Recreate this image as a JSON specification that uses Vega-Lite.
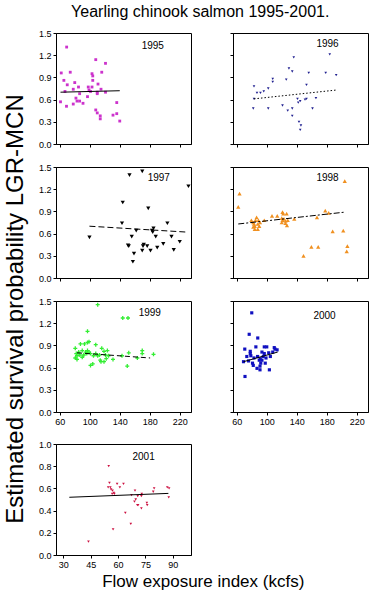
{
"$schema":"https://vega.github.io/schema/vega-lite/v6.json",
"padding":{"left":3,"top":3,"right":2,"bottom":2},
"background":"white",
"title":{"text":"Yearling chinook salmon 1995-2001.","fontSize":16,"font":"Liberation Sans","fontWeight":"normal","anchor":"middle","offset":9,"dx":14,"color":"black"},
"datasets":{
"pts":[
{"yr":1995,"x":69.2,"y":1.31},{"yr":1995,"x":62,"y":0.96},{"yr":1995,"x":65.5,"y":0.86},{"yr":1995,"x":70,"y":0.80},{"yr":1995,"x":67,"y":0.71},{"yr":1995,"x":61,"y":0.57},{"yr":1995,"x":69,"y":0.51},{"yr":1995,"x":74,"y":0.97},{"yr":1995,"x":80,"y":0.83},{"yr":1995,"x":78,"y":0.74},{"yr":1995,"x":85,"y":0.77},{"yr":1995,"x":86.5,"y":0.68},{"yr":1995,"x":81.6,"y":0.62},{"yr":1995,"x":83,"y":0.58},{"yr":1995,"x":86.5,"y":0.58},{"yr":1995,"x":78,"y":0.54},{"yr":1995,"x":91,"y":0.55},{"yr":1995,"x":97,"y":0.64},{"yr":1995,"x":98,"y":0.77},{"yr":1995,"x":99,"y":0.73},{"yr":1995,"x":101,"y":0.71},{"yr":1995,"x":103,"y":0.95},{"yr":1995,"x":104,"y":0.92},{"yr":1995,"x":104,"y":0.86},{"yr":1995,"x":103,"y":0.77},{"yr":1995,"x":108,"y":1.14},{"yr":1995,"x":110,"y":0.70},{"yr":1995,"x":111,"y":0.81},{"yr":1995,"x":110,"y":0.68},{"yr":1995,"x":115,"y":0.74},{"yr":1995,"x":116,"y":0.97},{"yr":1995,"x":121,"y":1.09},{"yr":1995,"x":121,"y":0.70},{"yr":1995,"x":108,"y":0.46},{"yr":1995,"x":110,"y":0.42},{"yr":1995,"x":114,"y":0.38},{"yr":1995,"x":114,"y":0.34},{"yr":1995,"x":131,"y":0.39},{"yr":1995,"x":136,"y":0.56},{"yr":1995,"x":136,"y":0.41},{"yr":1995,"x":140,"y":0.31},
{"yr":1996,"x":83,"y":0.78},{"yr":1996,"x":87,"y":0.69},{"yr":1996,"x":91.6,"y":0.69},{"yr":1996,"x":96,"y":0.71},{"yr":1996,"x":83,"y":0.61},{"yr":1996,"x":82,"y":0.48},{"yr":1996,"x":102,"y":0.75},{"yr":1996,"x":102,"y":0.48},{"yr":1996,"x":108,"y":0.84},{"yr":1996,"x":108,"y":0.88},{"yr":1996,"x":121,"y":0.52},{"yr":1996,"x":126,"y":0.87},{"yr":1996,"x":129.6,"y":1.02},{"yr":1996,"x":134,"y":0.98},{"yr":1996,"x":136,"y":1.17},{"yr":1996,"x":128,"y":0.45},{"yr":1996,"x":134,"y":0.48},{"yr":1996,"x":134,"y":0.38},{"yr":1996,"x":141,"y":0.61},{"yr":1996,"x":142,"y":0.56},{"yr":1996,"x":144.6,"y":0.58},{"yr":1996,"x":143,"y":0.30},{"yr":1996,"x":145.6,"y":0.25},{"yr":1996,"x":144.6,"y":0.19},{"yr":1996,"x":151,"y":0.60},{"yr":1996,"x":153,"y":0.61},{"yr":1996,"x":153,"y":0.80},{"yr":1996,"x":156,"y":0.96},{"yr":1996,"x":161,"y":0.48},{"yr":1996,"x":165.6,"y":0.62},{"yr":1996,"x":178.6,"y":0.96},{"yr":1996,"x":184,"y":1.21},{"yr":1996,"x":192.6,"y":0.93},
{"yr":1997,"x":99.6,"y":0.55},{"yr":1997,"x":144,"y":1.02},{"yr":1997,"x":153,"y":1.39},{"yr":1997,"x":170,"y":1.44},{"yr":1997,"x":178,"y":0.94},{"yr":1997,"x":143,"y":0.74},{"yr":1997,"x":151,"y":0.44},{"yr":1997,"x":152,"y":0.43},{"yr":1997,"x":156,"y":0.56},{"yr":1997,"x":162,"y":0.64},{"yr":1997,"x":159,"y":0.33},{"yr":1997,"x":157.5,"y":0.22},{"yr":1997,"x":170,"y":0.37},{"yr":1997,"x":172,"y":0.45},{"yr":1997,"x":171,"y":0.43},{"yr":1997,"x":176.6,"y":0.43},{"yr":1997,"x":181,"y":0.37},{"yr":1997,"x":184,"y":0.62},{"yr":1997,"x":185,"y":0.67},{"yr":1997,"x":183,"y":0.64},{"yr":1997,"x":188,"y":0.56},{"yr":1997,"x":190,"y":0.41},{"yr":1997,"x":198,"y":0.46},{"yr":1997,"x":203.5,"y":0.74},{"yr":1997,"x":209,"y":0.56},{"yr":1997,"x":212,"y":0.38},{"yr":1997,"x":220,"y":0.49},{"yr":1997,"x":231.6,"y":1.24},
{"yr":1998,"x":63.7,"y":1.14},{"yr":1998,"x":62,"y":0.96},{"yr":1998,"x":79.5,"y":0.78},{"yr":1998,"x":82,"y":0.75},{"yr":1998,"x":83,"y":0.73},{"yr":1998,"x":84,"y":0.70},{"yr":1998,"x":82,"y":0.69},{"yr":1998,"x":84,"y":0.66},{"yr":1998,"x":88,"y":0.66},{"yr":1998,"x":86.5,"y":0.82},{"yr":1998,"x":89,"y":0.78},{"yr":1998,"x":91,"y":0.75},{"yr":1998,"x":88,"y":0.73},{"yr":1998,"x":90,"y":0.70},{"yr":1998,"x":85,"y":0.78},{"yr":1998,"x":96.7,"y":0.78},{"yr":1998,"x":107,"y":0.84},{"yr":1998,"x":114,"y":0.84},{"yr":1998,"x":121,"y":0.89},{"yr":1998,"x":122,"y":0.87},{"yr":1998,"x":126.5,"y":0.87},{"yr":1998,"x":120,"y":0.81},{"yr":1998,"x":123,"y":0.80},{"yr":1998,"x":121,"y":0.78},{"yr":1998,"x":125,"y":0.77},{"yr":1998,"x":128,"y":0.78},{"yr":1998,"x":125,"y":0.74},{"yr":1998,"x":127,"y":0.71},{"yr":1998,"x":120,"y":0.75},{"yr":1998,"x":136.7,"y":0.80},{"yr":1998,"x":149,"y":0.30},{"yr":1998,"x":159.5,"y":0.42},{"yr":1998,"x":168.6,"y":0.42},{"yr":1998,"x":167,"y":0.82},{"yr":1998,"x":178,"y":0.91},{"yr":1998,"x":182.6,"y":0.88},{"yr":1998,"x":187.9,"y":0.63},{"yr":1998,"x":202,"y":0.64},{"yr":1998,"x":204,"y":1.31},{"yr":1998,"x":207.5,"y":0.43},{"yr":1998,"x":206.6,"y":0.36},
{"yr":1999,"x":110.6,"y":1.45},{"yr":1999,"x":144,"y":1.27},{"yr":1999,"x":151,"y":1.27},{"yr":1999,"x":97,"y":1.09},{"yr":1999,"x":150,"y":0.62},{"yr":1999,"x":152,"y":0.80},{"yr":1999,"x":170,"y":0.83},{"yr":1999,"x":170,"y":0.79},{"yr":1999,"x":163.5,"y":0.73},{"yr":1999,"x":185,"y":0.78},{"yr":1999,"x":143,"y":0.76},{"yr":1999,"x":131,"y":0.71},
{"yr":1999,"x":80.7,"y":0.86},{"yr":1999,"x":82,"y":0.79},{"yr":1999,"x":83,"y":0.76},{"yr":1999,"x":80.7,"y":0.73},{"yr":1999,"x":83,"y":0.71},{"yr":1999,"x":85.3,"y":0.81},{"yr":1999,"x":86.7,"y":0.77},{"yr":1999,"x":87.6,"y":0.92},{"yr":1999,"x":90,"y":0.83},{"yr":1999,"x":90,"y":0.74},{"yr":1999,"x":92,"y":0.77},{"yr":1999,"x":93,"y":0.92},{"yr":1999,"x":94.5,"y":0.81},{"yr":1999,"x":96,"y":0.79},{"yr":1999,"x":97,"y":0.83},{"yr":1999,"x":97,"y":0.94},{"yr":1999,"x":99,"y":0.95},{"yr":1999,"x":99,"y":0.81},{"yr":1999,"x":101,"y":0.79},{"yr":1999,"x":104,"y":0.65},{"yr":1999,"x":101,"y":0.63},{"yr":1999,"x":105,"y":0.76},{"yr":1999,"x":108,"y":0.79},{"yr":1999,"x":108,"y":0.91},{"yr":1999,"x":110.6,"y":0.76},{"yr":1999,"x":113,"y":0.77},{"yr":1999,"x":114,"y":0.70},{"yr":1999,"x":115,"y":0.68},{"yr":1999,"x":116,"y":0.86},{"yr":1999,"x":119,"y":0.82},{"yr":1999,"x":119,"y":0.68},{"yr":1999,"x":121,"y":0.77},{"yr":1999,"x":122,"y":0.72},{"yr":1999,"x":123.5,"y":0.83},{"yr":1999,"x":125,"y":0.76},
{"yr":2000,"x":80,"y":1.34},{"yr":2000,"x":76.6,"y":1.05},{"yr":2000,"x":88,"y":1.00},{"yr":2000,"x":70.7,"y":0.85},{"yr":2000,"x":78,"y":0.82},{"yr":2000,"x":78,"y":0.79},{"yr":2000,"x":85.5,"y":0.88},{"yr":2000,"x":96.7,"y":0.88},{"yr":2000,"x":100,"y":0.88},{"yr":2000,"x":93.6,"y":0.81},{"yr":2000,"x":96.7,"y":0.79},{"yr":2000,"x":102.6,"y":0.80},{"yr":2000,"x":110,"y":0.87},{"yr":2000,"x":111,"y":0.85},{"yr":2000,"x":113.8,"y":0.84},{"yr":2000,"x":108,"y":0.81},{"yr":2000,"x":73.4,"y":0.75},{"yr":2000,"x":78.8,"y":0.76},{"yr":2000,"x":83,"y":0.73},{"yr":2000,"x":87.8,"y":0.75},{"yr":2000,"x":91.4,"y":0.72},{"yr":2000,"x":93.6,"y":0.70},{"yr":2000,"x":90,"y":0.70},{"yr":2000,"x":95.4,"y":0.75},{"yr":2000,"x":99,"y":0.73},{"yr":2000,"x":104.8,"y":0.75},{"yr":2000,"x":69,"y":0.68},{"yr":2000,"x":75.7,"y":0.69},{"yr":2000,"x":81,"y":0.66},{"yr":2000,"x":82,"y":0.63},{"yr":2000,"x":92,"y":0.66},{"yr":2000,"x":98,"y":0.66},{"yr":2000,"x":91,"y":0.62},{"yr":2000,"x":87,"y":0.59},{"yr":2000,"x":91,"y":0.57},{"yr":2000,"x":103.5,"y":0.57},{"yr":2000,"x":71,"y":0.48},
{"yr":2001,"x":54.9,"y":0.80},{"yr":2001,"x":55.3,"y":0.65},{"yr":2001,"x":54.6,"y":0.61},{"yr":2001,"x":55.8,"y":0.61},{"yr":2001,"x":56.2,"y":0.59},{"yr":2001,"x":57,"y":0.58},{"yr":2001,"x":57.7,"y":0.56},{"yr":2001,"x":56.8,"y":0.55},{"yr":2001,"x":58,"y":0.55},{"yr":2001,"x":57.3,"y":0.23},{"yr":2001,"x":59.5,"y":0.64},{"yr":2001,"x":61,"y":0.61},{"yr":2001,"x":63,"y":0.64},{"yr":2001,"x":64,"y":0.38},{"yr":2001,"x":67,"y":0.28},{"yr":2001,"x":67.4,"y":0.54},{"yr":2001,"x":69.3,"y":0.58},{"yr":2001,"x":69.7,"y":0.50},{"yr":2001,"x":69,"y":0.48},{"yr":2001,"x":70.6,"y":0.45},{"yr":2001,"x":71,"y":0.45},{"yr":2001,"x":70.8,"y":0.53},{"yr":2001,"x":73,"y":0.55},{"yr":2001,"x":72.8,"y":0.53},{"yr":2001,"x":72.8,"y":0.42},{"yr":2001,"x":75.8,"y":0.47},{"yr":2001,"x":76,"y":0.45},{"yr":2001,"x":79.3,"y":0.57},{"yr":2001,"x":79.8,"y":0.60},{"yr":2001,"x":87,"y":0.61},{"yr":2001,"x":87.8,"y":0.52},{"yr":2001,"x":88,"y":0.60},{"yr":2001,"x":43.8,"y":0.12}
],
"fit":[
{"yr":1995,"x":61,"y":0.70},{"yr":1995,"x":140,"y":0.72},
{"yr":1996,"x":83,"y":0.61},{"yr":1996,"x":193.5,"y":0.73},
{"yr":1997,"x":99.6,"y":0.70},{"yr":1997,"x":230,"y":0.62},
{"yr":1998,"x":62,"y":0.73},{"yr":1998,"x":204,"y":0.89},
{"yr":1999,"x":83,"y":0.80},{"yr":1999,"x":180.5,"y":0.73},
{"yr":2000,"x":69,"y":0.68},{"yr":2000,"x":114.6,"y":0.81},
{"yr":2001,"x":33.3,"y":0.52},{"yr":2001,"x":87.6,"y":0.555}
]
},
"vconcat":[{
"title":{"text":"Estimated survival probability LGR-MCN","orient":"left","anchor":"middle","fontSize":24,"fontWeight":"normal","font":"Liberation Sans","offset":10,"color":"black"},
"vconcat":[{
"title":{"text":"Flow exposure index (kcfs)","orient":"bottom","anchor":"middle","fontSize":17,"fontWeight":"normal","font":"Liberation Sans","offset":4,"color":"black"},
"spacing":12,
"vconcat":[
{"spacing":37,"hconcat":[
{"width":135,"height":111,"layer":[
{"data":{"name":"pts"},"transform":[{"filter":"datum.yr==1995"}],"mark":{"type":"point","shape":"square","filled":true,"size":8,"color":"#CC33CC","opacity":1},
 "encoding":{"x":{"field":"x","type":"quantitative","title":null,"scale":{"domain":[55,235],"nice":false,"zero":false},"axis":{"values":[60,100,140,180,220],"labels":false}},"y":{"field":"y","type":"quantitative","title":null,"scale":{"domain":[0,1.5],"nice":false},"axis":{"values":[0,0.3,0.6,0.9,1.2,1.5],"format":".1f"}}}},
{"data":{"name":"fit"},"transform":[{"filter":"datum.yr==1995"}],"mark":{"type":"line","color":"black","strokeWidth":1},
 "encoding":{"x":{"field":"x","type":"quantitative","title":null,"scale":{"domain":[55,235],"nice":false,"zero":false},"axis":{"values":[60,100,140,180,220],"labels":false}},"y":{"field":"y","type":"quantitative","title":null,"scale":{"domain":[0,1.5],"nice":false},"axis":{"values":[0,0.3,0.6,0.9,1.2,1.5],"format":".1f"}}}},
{"data":{"values":[{}]},"mark":{"type":"text","fontSize":10,"font":"Liberation Sans","color":"black"},
 "encoding":{"x":{"datum":184,"type":"quantitative","title":null,"scale":{"domain":[55,235],"nice":false,"zero":false},"axis":{"values":[60,100,140,180,220],"labels":false}},"y":{"datum":1.33,"type":"quantitative","title":null,"scale":{"domain":[0,1.5],"nice":false},"axis":{"values":[0,0.3,0.6,0.9,1.2,1.5],"format":".1f"}},"text":{"value":"1995"}}}
]},
{"width":135,"height":111,"layer":[
{"data":{"name":"pts"},"transform":[{"filter":"datum.yr==1996"}],"mark":{"type":"point","shape":"triangle-down","filled":true,"size":7,"color":"#202090","opacity":1},
 "encoding":{"x":{"field":"x","type":"quantitative","title":null,"scale":{"domain":[55,235],"nice":false,"zero":false},"axis":{"values":[60,100,140,180,220],"labels":false}},"y":{"field":"y","type":"quantitative","title":null,"scale":{"domain":[0,1.5],"nice":false},"axis":{"values":[0,0.3,0.6,0.9,1.2,1.5],"labels":false}}}},
{"data":{"name":"fit"},"transform":[{"filter":"datum.yr==1996"}],"mark":{"type":"line","color":"black","strokeWidth":1,"strokeDash":[1.5,2]},
 "encoding":{"x":{"field":"x","type":"quantitative","title":null,"scale":{"domain":[55,235],"nice":false,"zero":false},"axis":{"values":[60,100,140,180,220],"labels":false}},"y":{"field":"y","type":"quantitative","title":null,"scale":{"domain":[0,1.5],"nice":false},"axis":{"values":[0,0.3,0.6,0.9,1.2,1.5],"labels":false}}}},
{"data":{"values":[{}]},"mark":{"type":"text","fontSize":10,"font":"Liberation Sans","color":"black"},
 "encoding":{"x":{"datum":181,"type":"quantitative","title":null,"scale":{"domain":[55,235],"nice":false,"zero":false},"axis":{"values":[60,100,140,180,220],"labels":false}},"y":{"datum":1.35,"type":"quantitative","title":null,"scale":{"domain":[0,1.5],"nice":false},"axis":{"values":[0,0.3,0.6,0.9,1.2,1.5],"labels":false}},"text":{"value":"1996"}}}
]}
]},
{"spacing":37,"hconcat":[
{"width":135,"height":111,"layer":[
{"data":{"name":"pts"},"transform":[{"filter":"datum.yr==1997"}],"mark":{"type":"point","shape":"triangle-down","filled":true,"size":18,"color":"black","opacity":1},
 "encoding":{"x":{"field":"x","type":"quantitative","title":null,"scale":{"domain":[55,235],"nice":false,"zero":false},"axis":{"values":[60,100,140,180,220],"labels":false}},"y":{"field":"y","type":"quantitative","title":null,"scale":{"domain":[0,1.5],"nice":false},"axis":{"values":[0,0.3,0.6,0.9,1.2,1.5],"format":".1f"}}}},
{"data":{"name":"fit"},"transform":[{"filter":"datum.yr==1997"}],"mark":{"type":"line","color":"black","strokeWidth":1,"strokeDash":[6,3]},
 "encoding":{"x":{"field":"x","type":"quantitative","title":null,"scale":{"domain":[55,235],"nice":false,"zero":false},"axis":{"values":[60,100,140,180,220],"labels":false}},"y":{"field":"y","type":"quantitative","title":null,"scale":{"domain":[0,1.5],"nice":false},"axis":{"values":[0,0.3,0.6,0.9,1.2,1.5],"format":".1f"}}}},
{"data":{"values":[{}]},"mark":{"type":"text","fontSize":10,"font":"Liberation Sans","color":"black"},
 "encoding":{"x":{"datum":192,"type":"quantitative","title":null,"scale":{"domain":[55,235],"nice":false,"zero":false},"axis":{"values":[60,100,140,180,220],"labels":false}},"y":{"datum":1.35,"type":"quantitative","title":null,"scale":{"domain":[0,1.5],"nice":false},"axis":{"values":[0,0.3,0.6,0.9,1.2,1.5],"format":".1f"}},"text":{"value":"1997"}}}
]},
{"width":135,"height":111,"layer":[
{"data":{"name":"pts"},"transform":[{"filter":"datum.yr==1998"}],"mark":{"type":"point","shape":"triangle-up","filled":true,"size":18,"color":"#F09020","opacity":1},
 "encoding":{"x":{"field":"x","type":"quantitative","title":null,"scale":{"domain":[55,235],"nice":false,"zero":false},"axis":{"values":[60,100,140,180,220],"labels":false}},"y":{"field":"y","type":"quantitative","title":null,"scale":{"domain":[0,1.5],"nice":false},"axis":{"values":[0,0.3,0.6,0.9,1.2,1.5],"labels":false}}}},
{"data":{"name":"fit"},"transform":[{"filter":"datum.yr==1998"}],"mark":{"type":"line","color":"black","strokeWidth":1,"strokeDash":[6,2,2,2]},
 "encoding":{"x":{"field":"x","type":"quantitative","title":null,"scale":{"domain":[55,235],"nice":false,"zero":false},"axis":{"values":[60,100,140,180,220],"labels":false}},"y":{"field":"y","type":"quantitative","title":null,"scale":{"domain":[0,1.5],"nice":false},"axis":{"values":[0,0.3,0.6,0.9,1.2,1.5],"labels":false}}}},
{"data":{"values":[{}]},"mark":{"type":"text","fontSize":10,"font":"Liberation Sans","color":"black"},
 "encoding":{"x":{"datum":181,"type":"quantitative","title":null,"scale":{"domain":[55,235],"nice":false,"zero":false},"axis":{"values":[60,100,140,180,220],"labels":false}},"y":{"datum":1.35,"type":"quantitative","title":null,"scale":{"domain":[0,1.5],"nice":false},"axis":{"values":[0,0.3,0.6,0.9,1.2,1.5],"labels":false}},"text":{"value":"1998"}}}
]}
]},
{"spacing":37,"hconcat":[
{"width":135,"height":111,"layer":[
{"data":{"name":"pts"},"transform":[{"filter":"datum.yr==1999"}],"mark":{"type":"point","shape":"M-1,0L1,0M0,-1L0,1","filled":false,"size":16,"strokeWidth":1.3,"color":"#33EE33","opacity":1},
 "encoding":{"x":{"field":"x","type":"quantitative","title":null,"scale":{"domain":[55,235],"nice":false,"zero":false},"axis":{"values":[60,100,140,180,220]}},"y":{"field":"y","type":"quantitative","title":null,"scale":{"domain":[0,1.5],"nice":false},"axis":{"values":[0,0.3,0.6,0.9,1.2,1.5],"format":".1f"}}}},
{"data":{"name":"fit"},"transform":[{"filter":"datum.yr==1999"}],"mark":{"type":"line","color":"black","strokeWidth":1,"strokeDash":[5,3]},
 "encoding":{"x":{"field":"x","type":"quantitative","title":null,"scale":{"domain":[55,235],"nice":false,"zero":false},"axis":{"values":[60,100,140,180,220]}},"y":{"field":"y","type":"quantitative","title":null,"scale":{"domain":[0,1.5],"nice":false},"axis":{"values":[0,0.3,0.6,0.9,1.2,1.5],"format":".1f"}}}},
{"data":{"values":[{}]},"mark":{"type":"text","fontSize":10,"font":"Liberation Sans","color":"black"},
 "encoding":{"x":{"datum":180,"type":"quantitative","title":null,"scale":{"domain":[55,235],"nice":false,"zero":false},"axis":{"values":[60,100,140,180,220]}},"y":{"datum":1.34,"type":"quantitative","title":null,"scale":{"domain":[0,1.5],"nice":false},"axis":{"values":[0,0.3,0.6,0.9,1.2,1.5],"format":".1f"}},"text":{"value":"1999"}}}
]},
{"width":135,"height":111,"layer":[
{"data":{"name":"pts"},"transform":[{"filter":"datum.yr==2000"}],"mark":{"type":"point","shape":"square","filled":true,"size":10,"color":"#1010C0","opacity":1},
 "encoding":{"x":{"field":"x","type":"quantitative","title":null,"scale":{"domain":[55,235],"nice":false,"zero":false},"axis":{"values":[60,100,140,180,220]}},"y":{"field":"y","type":"quantitative","title":null,"scale":{"domain":[0,1.5],"nice":false},"axis":{"values":[0,0.3,0.6,0.9,1.2,1.5],"labels":false}}}},
{"data":{"name":"fit"},"transform":[{"filter":"datum.yr==2000"}],"mark":{"type":"line","color":"black","strokeWidth":1},
 "encoding":{"x":{"field":"x","type":"quantitative","title":null,"scale":{"domain":[55,235],"nice":false,"zero":false},"axis":{"values":[60,100,140,180,220]}},"y":{"field":"y","type":"quantitative","title":null,"scale":{"domain":[0,1.5],"nice":false},"axis":{"values":[0,0.3,0.6,0.9,1.2,1.5],"labels":false}}}},
{"data":{"values":[{}]},"mark":{"type":"text","fontSize":10,"font":"Liberation Sans","color":"black"},
 "encoding":{"x":{"datum":177,"type":"quantitative","title":null,"scale":{"domain":[55,235],"nice":false,"zero":false},"axis":{"values":[60,100,140,180,220]}},"y":{"datum":1.30,"type":"quantitative","title":null,"scale":{"domain":[0,1.5],"nice":false},"axis":{"values":[0,0.3,0.6,0.9,1.2,1.5],"labels":false}},"text":{"value":"2000"}}}
]}
]},
{"spacing":37,"hconcat":[
{"width":135,"height":111,"layer":[
{"data":{"name":"pts"},"transform":[{"filter":"datum.yr==2001"}],"mark":{"type":"point","shape":"triangle-down","filled":true,"size":7,"color":"#CC1040","opacity":1},
 "encoding":{"x":{"field":"x","type":"quantitative","title":null,"scale":{"domain":[26,100],"nice":false,"zero":false},"axis":{"values":[30,45,60,75,90]}},"y":{"field":"y","type":"quantitative","title":null,"scale":{"domain":[0,1.0],"nice":false},"axis":{"values":[0,0.2,0.4,0.6,0.8,1.0],"format":".1f"}}}},
{"data":{"name":"fit"},"transform":[{"filter":"datum.yr==2001"}],"mark":{"type":"line","color":"black","strokeWidth":1},
 "encoding":{"x":{"field":"x","type":"quantitative","title":null,"scale":{"domain":[26,100],"nice":false,"zero":false},"axis":{"values":[30,45,60,75,90]}},"y":{"field":"y","type":"quantitative","title":null,"scale":{"domain":[0,1.0],"nice":false},"axis":{"values":[0,0.2,0.4,0.6,0.8,1.0],"format":".1f"}}}},
{"data":{"values":[{}]},"mark":{"type":"text","fontSize":10,"font":"Liberation Sans","color":"black"},
 "encoding":{"x":{"datum":74,"type":"quantitative","title":null,"scale":{"domain":[26,100],"nice":false,"zero":false},"axis":{"values":[30,45,60,75,90]}},"y":{"datum":0.88,"type":"quantitative","title":null,"scale":{"domain":[0,1.0],"nice":false},"axis":{"values":[0,0.2,0.4,0.6,0.8,1.0],"format":".1f"}},"text":{"value":"2001"}}}
]}
]}
]
}]
}],
"config":{
"view":{"stroke":"black","strokeWidth":1},
"axis":{"domainColor":"black","tickColor":"black","labelColor":"black","labelFont":"Liberation Sans","labelFontSize":9,"tickSize":3,"grid":false,"labelPadding":2},
"title":{"font":"Liberation Sans"}
}
}
